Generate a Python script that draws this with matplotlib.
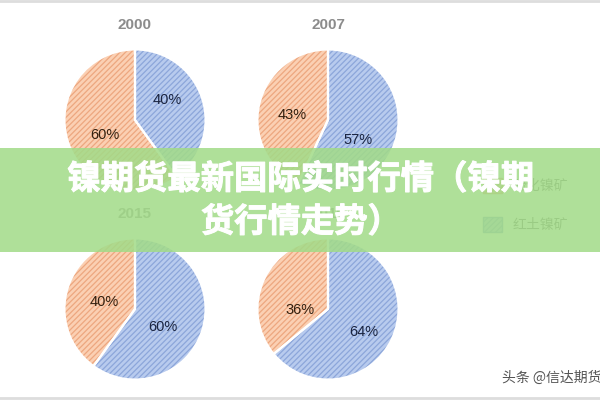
import numpy as np
import matplotlib.pyplot as plt
import matplotlib.patheffects as pe
from matplotlib.patches import Patch, Rectangle
from matplotlib.lines import Line2D

plt.rcParams['font.family'] = ['Noto Sans CJK SC', 'DejaVu Sans']
plt.rcParams['hatch.linewidth'] = 0.9

years = ['2000', '2007', '2015', '2019']
laterite = [40, 57, 60, 64]     # 红土镍矿 (blue)
sulfide = [60, 43, 40, 36]      # 硫化镍矿 (orange)
legend_labels = ['硫化镍矿', '红土镍矿']
banner = '镍期货最新国际实时行情（镍期\n货行情走势）'

# label spots inside each pie, in radius units (blue, orange)
label_pos = [[(0.45, 0.28), (-0.43, -0.21)],
             [(0.42, -0.28), (-0.51, 0.07)],
             [(0.39, -0.25), (-0.43, 0.10)],
             [(0.51, -0.33), (-0.39, -0.01)]]

blue_fill, blue_hatch = '#b8cbee', '#8ca6da'
orange_fill, orange_hatch = '#fbd0b3', '#eda77f'

W, H = 600, 400
fig = plt.figure(figsize=(6, 4), dpi=100)

# pie centres in pixels (from top-left)
centers = [(135, 120), (328, 120), (135, 309), (328, 309)]
R = 72

for i, yr in enumerate(years):
    cx, cy = centers[i]
    ax = fig.add_axes([(cx - R) / W, 1 - (cy + R) / H, 2 * R / W, 2 * R / H])
    vals = [laterite[i], sulfide[i]]
    wedges, texts = ax.pie(vals, startangle=90, counterclock=False,
                           colors=[blue_fill, orange_fill])
    for w, hc in zip(wedges, [blue_hatch, orange_hatch]):
        w.set_hatch('//////')
        w.set_edgecolor(hc)
        w.set_linewidth(0)
    # white separators
    ax.pie(vals, startangle=90, counterclock=False,
           wedgeprops=dict(fill=False, edgecolor='white', linewidth=1.6))
    for v, col, (lx, ly) in zip(vals, ['#1a2440', '#33200f'], label_pos[i]):
        ax.text(lx, ly, f'{v}%', ha='center', va='center', fontsize=10.5,
                color=col, family='Liberation Sans')
    ax.set_xlim(-1.02, 1.02)
    ax.set_ylim(-1.02, 1.02)
    ax.set_aspect('equal')
    ax.axis('off')
    fig.text(cx / W, 1 - (cy - R - 23) / H, yr, ha='center', va='center',
             fontsize=11, fontweight='bold', color='#8c8c8c',
             family='Liberation Sans')

handles = [Patch(facecolor=orange_fill, edgecolor=orange_hatch, hatch='//////'),
           Patch(facecolor=blue_fill, edgecolor=blue_hatch, hatch='//////')]
fig.legend(handles, legend_labels, loc='upper left',
           bbox_to_anchor=(470 / W, 1 - 165 / H), frameon=False,
           fontsize=10, labelcolor='#707070', handlelength=1.4,
           handleheight=1.3, labelspacing=1.75, handletextpad=0.8)

# watermark
fig.text(502 / W, 1 - 378 / H, '头条 @信达期货', ha='left', va='center',
         fontsize=10, color='#555555')

# thin border lines
fig.add_artist(Line2D([0, 1], [1 - 1 / H, 1 - 1 / H], color='#dddddd', lw=2))
fig.add_artist(Line2D([0, 1], [2 / H, 2 / H], color='#dddddd', lw=2))

# translucent banner
fig.add_artist(Rectangle((0, 1 - 252 / H), 1, 104 / H, transform=fig.transFigure,
                         facecolor='#a2db88', alpha=0.86, edgecolor='none',
                         zorder=10))
fig.text(301 / W, 1 - 201 / H, banner, ha='center', va='center', fontsize=24,
         fontweight='bold', color='white', linespacing=1.38, zorder=11,
         path_effects=[pe.withStroke(linewidth=0.7, foreground='white')])

fig.savefig('out.png', dpi=100)
